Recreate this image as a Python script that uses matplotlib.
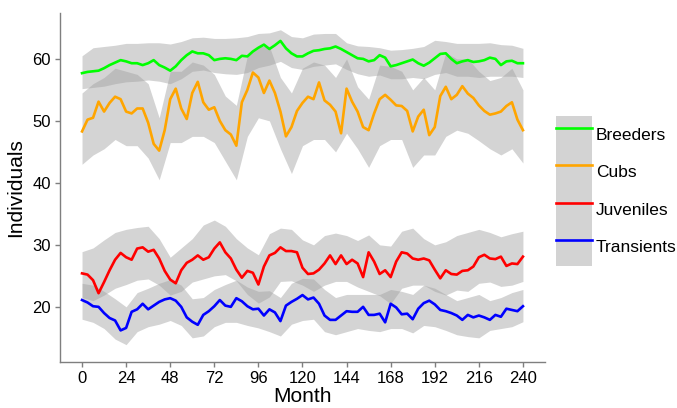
import matplotlib.pyplot as plt
from matplotlib.patches import Patch
from matplotlib.lines import Line2D

plt.rcParams['font.family'] = ['Liberation Sans', 'DejaVu Sans']

# line values, read every 3 months
months = list(range(0, 241, 3))
breeders = [57.7, 57.9, 58.0, 58.1, 58.5, 59.0, 59.4, 59.8, 59.6, 59.3,
            59.3, 59.0, 59.3, 59.8, 59.0, 58.6, 58.1, 58.8, 59.8, 60.6,
            61.2, 60.9, 60.9, 60.6, 59.8, 60.0, 60.1, 60.0, 59.8, 60.5,
            60.4, 61.2, 61.8, 62.3, 61.6, 62.2, 62.9, 61.7, 60.9, 60.4,
            60.4, 60.9, 61.3, 61.4, 61.6, 61.7, 62.0, 61.6, 61.1, 60.6,
            60.1, 60.0, 59.6, 59.8, 60.6, 60.2, 58.8, 59.0, 59.3, 59.6,
            59.9, 59.3, 58.9, 59.4, 60.1, 60.8, 60.9, 60.0, 59.3, 59.6,
            59.8, 59.5, 59.6, 59.8, 60.2, 60.0, 59.0, 59.6, 59.7, 59.3,
            59.3]
cubs = [48.3, 50.2, 50.5, 53.1, 51.5, 52.9, 53.9, 53.5, 51.5, 51.2,
        52.0, 52.0, 49.7, 46.3, 45.2, 48.5, 53.5, 55.2, 52.0, 50.3,
        54.5, 56.3, 53.0, 51.8, 52.2, 50.0, 48.5, 47.8, 46.0, 53.0,
        55.0, 57.8, 57.0, 54.5, 56.5, 54.5, 51.5, 47.5, 49.0, 51.6,
        52.9, 53.9, 53.5, 56.2, 53.3, 52.6, 51.5, 48.0, 55.2, 53.1,
        51.5, 49.0, 48.5, 51.2, 53.5, 54.2, 53.4, 52.5, 52.4, 51.6,
        48.3, 50.7, 51.8, 47.7, 49.0, 54.0, 55.5, 53.5, 54.2, 55.6,
        54.4, 53.7, 52.5, 51.6, 51.0, 51.2, 51.5, 52.4, 53.0, 50.2,
        48.5]
juveniles = [25.4, 25.2, 24.3, 22.2, 24.0, 25.9, 27.6, 28.7, 28.0, 27.6,
             29.4, 29.6, 28.9, 29.2, 27.8, 25.8, 24.4, 23.8, 25.9, 27.1,
             27.6, 28.3, 27.6, 28.0, 29.4, 30.4, 28.8, 27.8, 26.0, 24.7,
             25.8, 25.5, 23.6, 26.5, 28.3, 28.7, 29.6, 29.0, 29.0, 28.8,
             26.3, 25.3, 25.4, 26.0, 27.0, 28.3, 26.9, 28.3, 26.9, 27.6,
             27.0, 24.8, 28.8, 27.3, 25.3, 25.9, 24.8, 27.3, 28.8, 28.6,
             27.8, 27.6, 27.8, 27.5, 26.0, 24.6, 25.9, 25.3, 25.2, 25.8,
             25.9, 26.5, 28.0, 28.4, 27.8, 27.7, 28.1, 26.6, 27.0, 26.9,
             28.1]
transients = [21.1, 20.7, 20.1, 20.0, 19.0, 18.2, 17.8, 16.2, 16.6, 19.2,
              19.6, 20.5, 19.6, 20.2, 20.8, 21.2, 21.4, 21.0, 20.0, 18.3,
              17.6, 17.1, 18.7, 19.3, 20.1, 21.1, 20.2, 20.0, 21.4, 20.9,
              20.1, 19.6, 19.7, 18.6, 19.6, 19.1, 17.7, 20.2, 20.8, 21.3,
              21.9, 21.2, 21.5, 20.5, 18.6, 17.9, 17.9, 18.6, 19.3, 19.2,
              19.2, 20.0, 18.7, 18.7, 18.9, 17.5, 20.5, 19.9, 18.8, 18.9,
              18.0, 19.7, 20.6, 21.0, 20.4, 19.5, 19.3, 19.0, 18.6, 17.9,
              18.7, 18.3, 18.6, 18.3, 17.9, 18.7, 18.4, 19.7, 19.5, 19.3,
              20.1]

# ribbon bounds, read every 6 months
band_months = list(range(0, 241, 6))
breeders_hi = [60.5, 61.8, 62.0, 62.2, 62.5, 62.5, 62.6, 62.6, 62.4, 62.8,
               63.4, 63.5, 63.3, 63.3, 63.4, 63.6, 64.1, 64.2, 64.7, 63.6,
               63.4, 64.0, 64.1, 64.1, 62.6, 62.1, 62.0, 61.8, 61.4, 61.5,
               61.7, 62.0, 63.0, 62.8, 62.5, 62.5, 62.5, 62.6, 62.3, 62.2,
               61.7]
breeders_lo = [55.2, 55.4, 55.6, 56.0, 56.3, 56.4, 56.6, 56.4, 56.0, 56.8,
               58.0, 58.2, 57.8, 57.6, 57.5, 57.8, 58.6, 59.0, 59.6, 58.6,
               58.3, 58.8, 59.0, 59.2, 58.3, 57.6, 57.2, 57.4, 56.8, 56.8,
               57.0, 56.8, 57.5, 57.8, 57.2, 57.2, 57.0, 57.2, 57.2, 57.2,
               57.0]
cubs_hi = [54.5, 56.0, 57.0, 58.5, 58.0, 57.5, 56.0, 50.5, 58.0, 58.0,
           59.5, 59.0, 57.5, 54.0, 52.5, 60.5, 62.0, 62.0, 57.0, 54.5,
           58.5, 59.5, 59.0, 57.0, 60.0, 55.5, 53.5, 59.0, 58.8, 58.0,
           55.0, 57.0, 55.0, 61.0, 60.0, 60.0, 58.0, 56.5, 57.0, 58.5,
           55.0]
cubs_lo = [43.0, 44.5, 45.5, 47.0, 46.0, 46.0, 44.0, 40.5, 46.5, 46.5,
           47.5, 47.5, 46.5, 43.5, 40.5, 47.5, 50.5, 50.0, 45.5, 41.5,
           46.0, 47.0, 47.0, 45.0, 48.0, 45.5, 42.5, 46.0, 47.0, 47.0,
           42.5, 44.5, 44.5, 47.5, 48.5, 48.0, 46.8, 45.5, 44.5, 45.5,
           43.2]
juveniles_hi = [28.9, 29.5, 30.8, 32.0, 32.5, 32.8, 33.0, 31.0, 28.0, 29.5,
                31.0, 33.2, 34.0, 33.0, 31.0, 29.5, 28.4, 31.8, 32.7, 32.5,
                30.8, 30.0, 31.5, 31.9, 31.5, 30.7, 31.6, 30.0, 29.8, 32.2,
                32.7, 31.0, 30.0, 30.5, 31.5, 32.0, 32.5, 32.0, 31.3, 31.8,
                32.2]
juveniles_lo = [21.5, 21.0, 21.9, 23.0, 23.6, 24.3, 24.5, 23.5, 21.9, 22.5,
                24.0, 24.5, 25.0, 25.2, 24.2, 22.0, 20.6, 21.6, 24.1, 24.2,
                23.5, 22.5, 23.5, 24.1, 24.1, 23.2, 22.5, 21.8, 20.5, 23.0,
                23.5, 23.5, 22.5, 21.9, 22.7, 22.5, 23.8, 24.0, 23.3, 23.5,
                24.1]
transients_hi = [23.8, 23.5, 22.5, 21.3, 20.0, 22.3, 23.0, 23.8, 24.4, 23.5,
                 21.3, 21.5, 22.8, 23.6, 24.3, 23.2, 22.5, 22.6, 21.5, 23.8,
                 24.6, 24.5, 22.8, 21.5, 22.0, 22.0, 22.0, 22.0, 22.8, 22.5,
                 22.0, 23.5, 23.0, 22.0, 21.0, 21.5, 22.0, 21.0, 21.5, 22.3,
                 22.8]
transients_lo = [18.0, 17.5, 16.5, 14.8, 13.9, 16.0, 16.8, 17.2, 17.8, 17.0,
                 15.0, 15.3, 16.8, 17.5, 17.5, 17.0, 16.6, 16.0, 15.3, 17.2,
                 17.8, 18.0, 16.0, 15.5, 16.0, 16.5, 16.2, 16.0, 16.5, 16.5,
                 15.8, 17.0, 16.8, 16.2, 15.5, 15.2, 15.0, 16.2, 16.5, 16.8,
                 17.6]

names = ['Breeders', 'Cubs', 'Juveniles', 'Transients']
colors = ['#00ff00', '#ffa500', '#ff0000', '#0000ff']
lines = [breeders, cubs, juveniles, transients]
bands = [(breeders_lo, breeders_hi), (cubs_lo, cubs_hi),
         (juveniles_lo, juveniles_hi), (transients_lo, transients_hi)]

fig = plt.figure(figsize=(6.77, 4.08), dpi=100)
ax = fig.add_axes([0.0886, 0.1127, 0.7164, 0.8554])

# ribbons first, then lines on top
for lo, hi in bands:
    ax.fill_between(band_months, lo, hi, color='#a0a0a0', alpha=0.45,
                    linewidth=0)
for vals, c in zip(lines, colors):
    ax.plot(months, vals, color=c, linewidth=1.9)

ax.set_xlim(-12, 252)
ax.set_ylim(11.1, 67.4)
ax.set_xticks(range(0, 241, 24))
ax.set_yticks([20, 30, 40, 50, 60])

for side in ['top', 'right']:
    ax.spines[side].set_visible(False)
for side in ['left', 'bottom']:
    ax.spines[side].set_color('#7f7f7f')
    ax.spines[side].set_linewidth(1.0)
ax.tick_params(colors='#7f7f7f', labelcolor='black', labelsize=12,
               length=3.5, width=1.0, pad=3)
ax.set_xlabel('Month', fontsize=15, labelpad=1)
ax.set_ylabel('Individuals', fontsize=15, labelpad=5)

handles = [(Patch(facecolor='#d3d3d3', edgecolor='none'),
            Line2D([], [], color=c, linewidth=1.9)) for c in colors]
fig.legend(handles, names, loc='upper left', bbox_to_anchor=(0.821, 0.716),
           frameon=False, fontsize=12.5, handlelength=2.1, handleheight=2.95,
           labelspacing=0, borderpad=0, borderaxespad=0, handletextpad=0.2)

fig.savefig('out.png', dpi=100)
